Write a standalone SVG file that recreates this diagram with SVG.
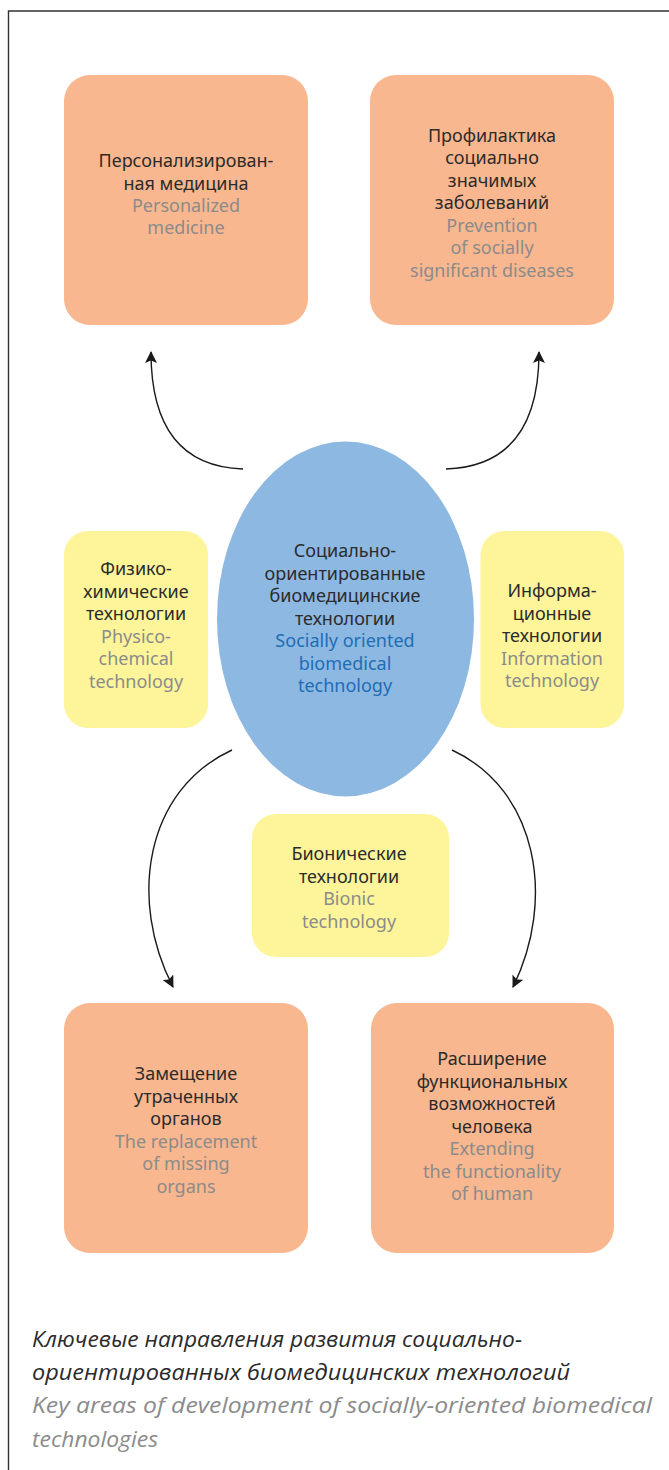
<svg xmlns="http://www.w3.org/2000/svg" width="669" height="1470" viewBox="0 0 669 1470">
<style>
.o{fill:#f9b78f}
.y{fill:#fef59a}
.t{font-family:"Noto Sans","Open Sans",sans-serif;font-size:18px;text-anchor:middle}
.k{fill:#2b2b2b}
.g{fill:#8b8b8b}
.b{fill:#1e6db5}
.c{fill:none;stroke:#1a1a1a;stroke-width:1.4}
.cap{font-family:"Open Sans","Liberation Sans",sans-serif;font-style:italic;font-size:22px}
</style>
<defs>
<marker id="ah" viewBox="0 0 12 12" refX="11" refY="6" markerWidth="12" markerHeight="12" markerUnits="userSpaceOnUse" orient="auto">
<path d="M0,0 L12,6 L0,12 L2.5,6 Z" fill="#1a1a1a"/>
</marker>
</defs>
<rect width="669" height="1470" fill="#fff"/>
<path d="M8.5,1470 V11 H669" fill="none" stroke="#333" stroke-width="1.4"/>

<g id="connectors">
<path class="c" d="M243,469 C185,467 151,432 151,352" marker-end="url(#ah)"/>
<path class="c" d="M446,469 C504,467 539,432 539,352" marker-end="url(#ah)"/>
<path class="c" d="M232,750 C145,790 128,900 173,987" marker-end="url(#ah)"/>
<path class="c" d="M452,750 C538,790 556,900 513,987" marker-end="url(#ah)"/>
</g>

<g id="personalized">
<rect class="o" x="64" y="75" width="244" height="250" rx="26"/>
<text class="t k" x="186" y="167">Персонализирован-</text>
<text class="t k" x="186" y="189.5">ная медицина</text>
<text class="t g" x="186" y="212">Personalized</text>
<text class="t g" x="186" y="234">medicine</text>
</g>

<g id="prevention">
<rect class="o" x="370" y="75" width="244" height="250" rx="26"/>
<text class="t k" x="492" y="141.5">Профилактика</text>
<text class="t k" x="492" y="164">социально</text>
<text class="t k" x="492" y="186.5">значимых</text>
<text class="t k" x="492" y="209">заболеваний</text>
<text class="t g" x="492" y="231.5">Prevention</text>
<text class="t g" x="492" y="254">of socially</text>
<text class="t g" x="492" y="276.5">significant diseases</text>
</g>

<g id="physico">
<rect class="y" x="64" y="531" width="144" height="197" rx="24"/>
<text class="t k" x="136" y="575">Физико-</text>
<text class="t k" x="136" y="597.5">химические</text>
<text class="t k" x="136" y="620">технологии</text>
<text class="t g" x="136" y="642.5">Physico-</text>
<text class="t g" x="136" y="665">chemical</text>
<text class="t g" x="136" y="687.5">technology</text>
</g>

<g id="information">
<rect class="y" x="480.5" y="531" width="143.5" height="197" rx="24"/>
<text class="t k" x="552" y="597">Информа-</text>
<text class="t k" x="552" y="619.5">ционные</text>
<text class="t k" x="552" y="642">технологии</text>
<text class="t g" x="552" y="664.5">Information</text>
<text class="t g" x="552" y="687">technology</text>
</g>

<g id="center">
<ellipse cx="345.5" cy="619" rx="128.5" ry="177.5" fill="#8db8e2"/>
<text class="t k" x="345" y="557">Социально-</text>
<text class="t k" x="345" y="579.5">ориентированные</text>
<text class="t k" x="345" y="602">биомедицинские</text>
<text class="t k" x="345" y="624.5">технологии</text>
<text class="t b" x="345" y="647">Socially oriented</text>
<text class="t b" x="345" y="669.5">biomedical</text>
<text class="t b" x="345" y="692">technology</text>
</g>

<g id="bionic">
<rect class="y" x="252" y="814" width="197" height="143" rx="24"/>
<text class="t k" x="349" y="860">Бионические</text>
<text class="t k" x="349" y="882.5">технологии</text>
<text class="t g" x="349" y="905">Bionic</text>
<text class="t g" x="349" y="927.5">technology</text>
</g>

<g id="replacement">
<rect class="o" x="64" y="1003" width="244" height="250" rx="26"/>
<text class="t k" x="186" y="1080">Замещение</text>
<text class="t k" x="186" y="1102.5">утраченных</text>
<text class="t k" x="186" y="1125">органов</text>
<text class="t g" x="186" y="1147.5">The replacement</text>
<text class="t g" x="186" y="1170">of missing</text>
<text class="t g" x="186" y="1192.5">organs</text>
</g>

<g id="extending">
<rect class="o" x="371" y="1003" width="243" height="250" rx="26"/>
<text class="t k" x="492" y="1065">Расширение</text>
<text class="t k" x="492" y="1087.5">функциональных</text>
<text class="t k" x="492" y="1110">возможностей</text>
<text class="t k" x="492" y="1132.5">человека</text>
<text class="t g" x="492" y="1155">Extending</text>
<text class="t g" x="492" y="1177.5">the functionality</text>
<text class="t g" x="492" y="1200">of human</text>
</g>

<g id="caption">
<text class="cap k" x="32" y="1346.5" textLength="490" lengthAdjust="spacingAndGlyphs">Ключевые направления развития социально-</text>
<text class="cap k" x="32" y="1380" textLength="538" lengthAdjust="spacingAndGlyphs">ориентированных биомедицинских технологий</text>
<text class="cap g" x="32" y="1413" textLength="620" lengthAdjust="spacingAndGlyphs">Key areas of development of socially-oriented biomedical</text>
<text class="cap g" x="32" y="1446.5" textLength="126" lengthAdjust="spacingAndGlyphs">technologies</text>
</g>
</svg>
